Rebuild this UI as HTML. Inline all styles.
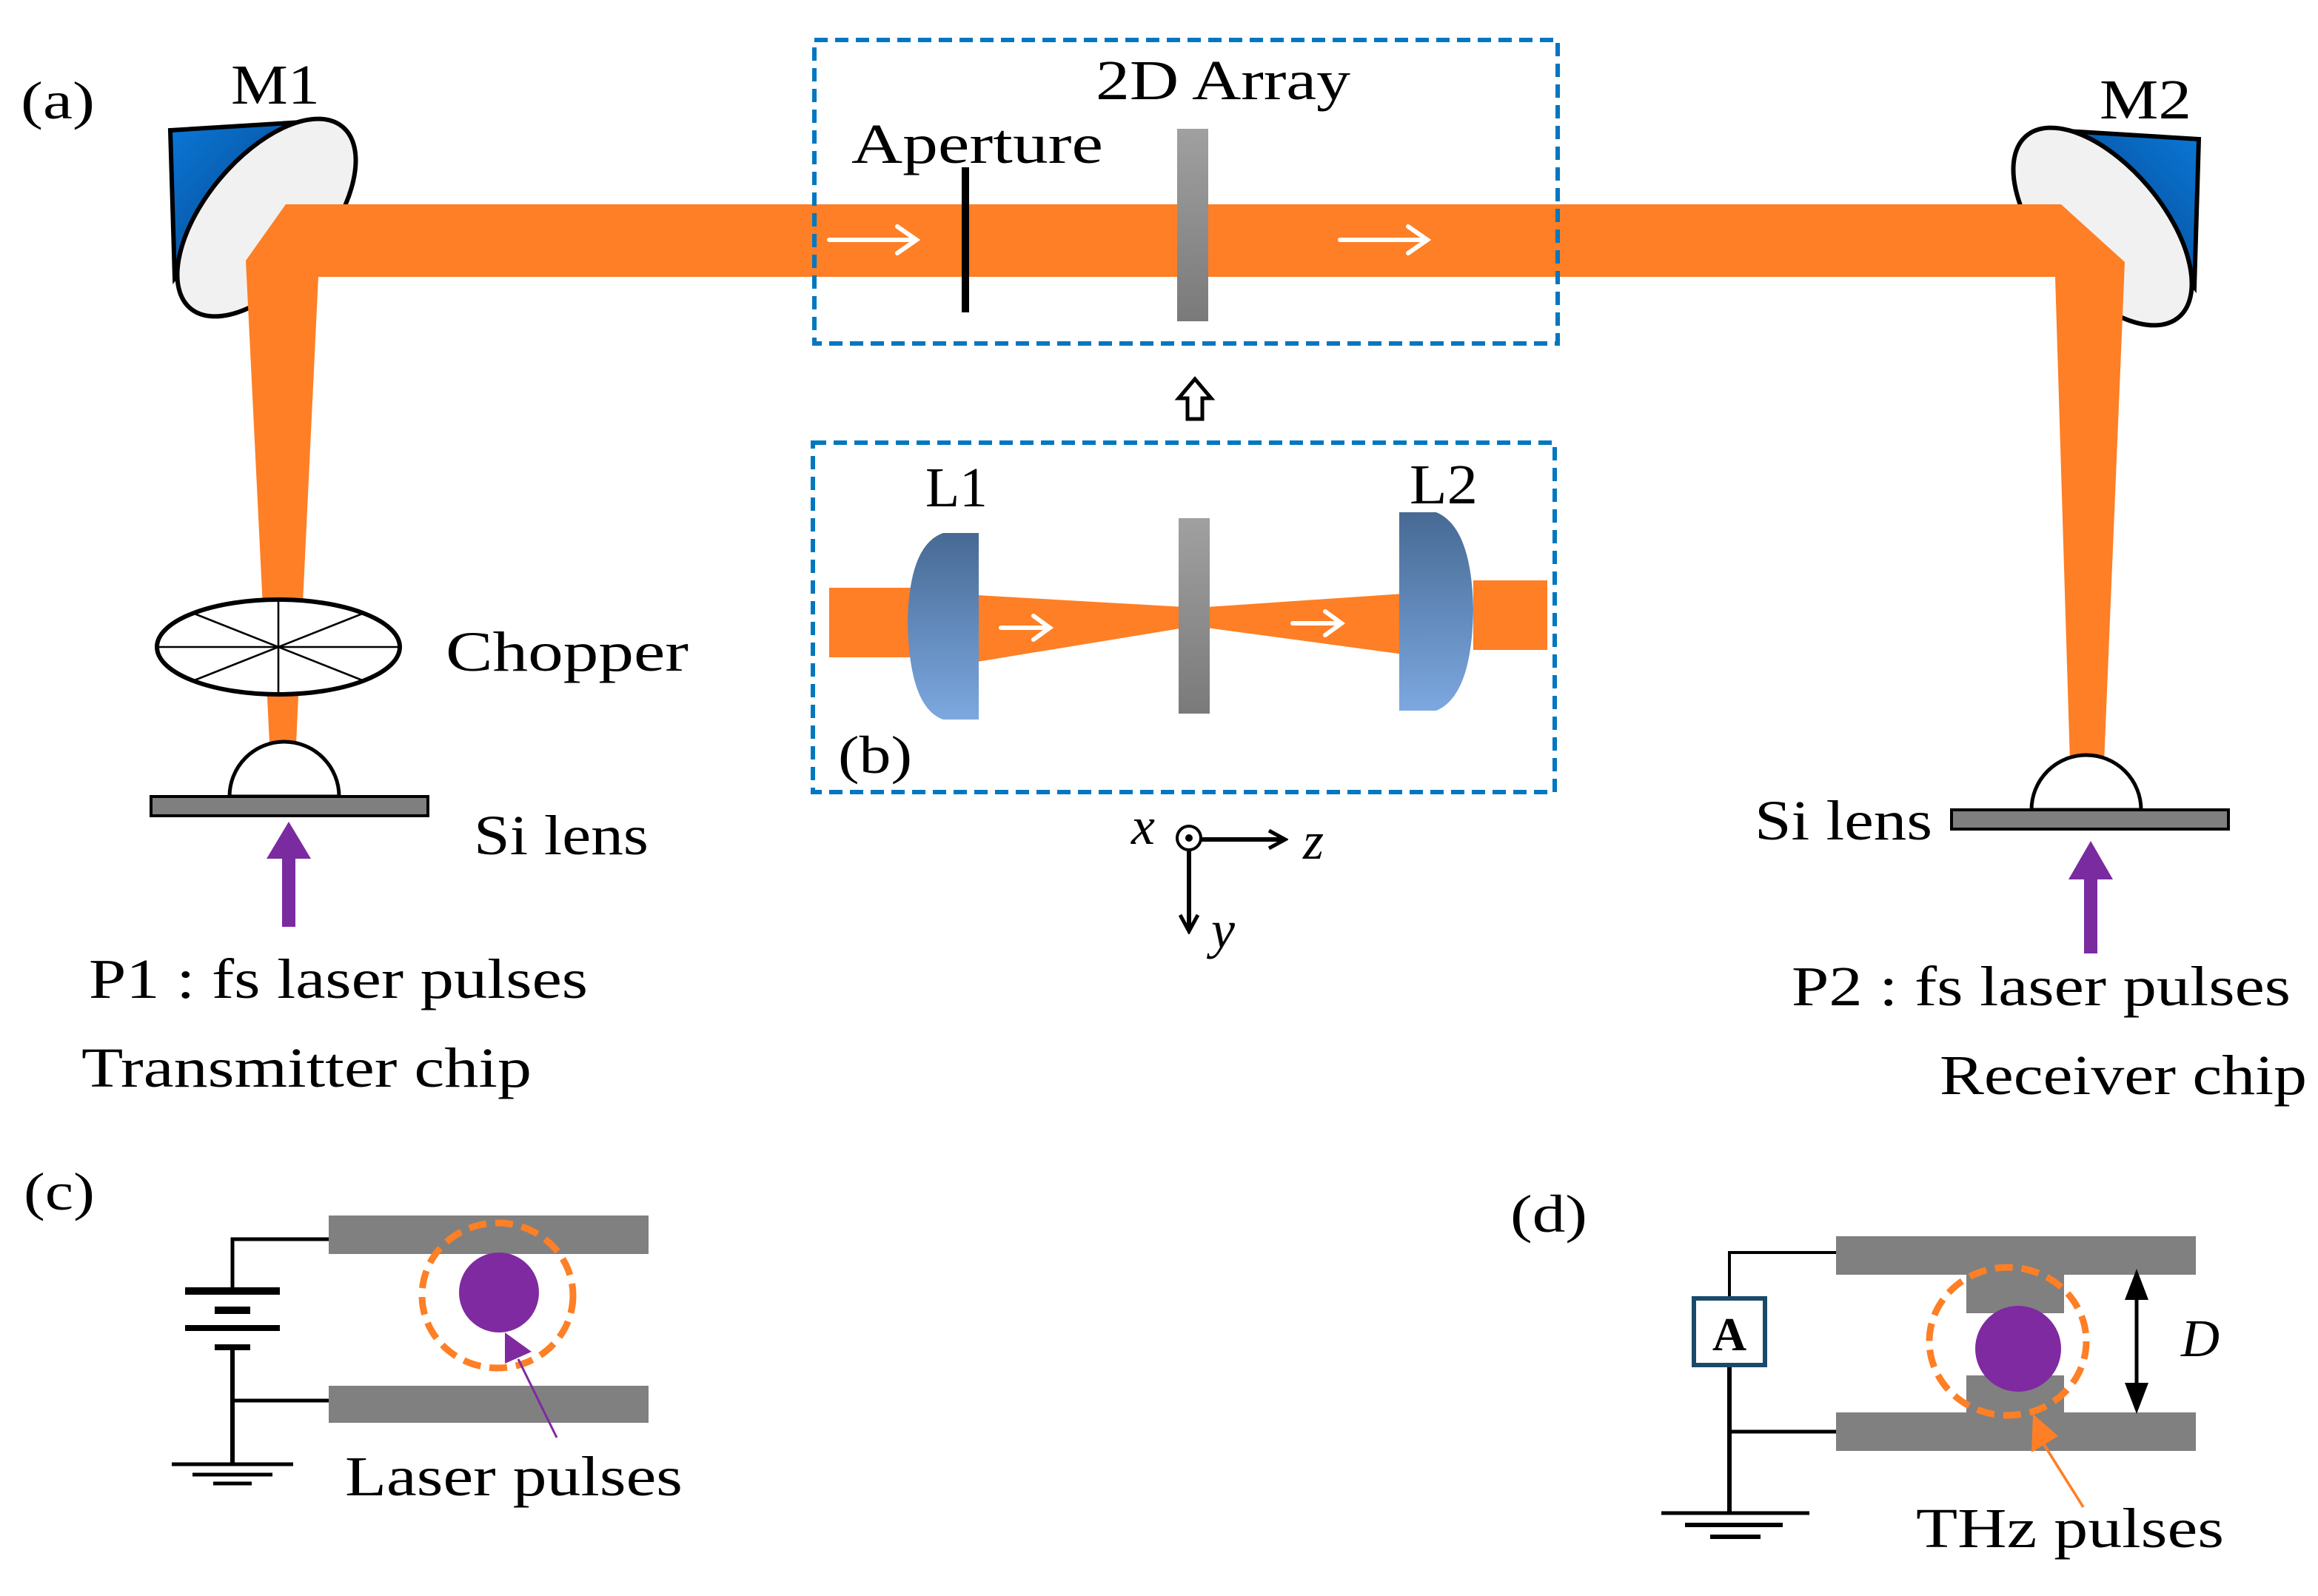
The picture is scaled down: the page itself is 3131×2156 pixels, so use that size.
<!DOCTYPE html>
<html><head><meta charset="utf-8"><style>
html,body{margin:0;padding:0;background:#fff;}
svg{display:block;}
text{font-family:"Liberation Serif","Times New Roman",serif;fill:#000;}
</style></head><body>
<svg width="3131" height="2156" viewBox="0 0 1565.5 1078" xmlns="http://www.w3.org/2000/svg" font-family="Liberation Serif, serif">
<defs>
<linearGradient id="blue" x1="0" y1="0" x2="1" y2="1"><stop offset="0" stop-color="#0a78d8"/><stop offset="1" stop-color="#063a7a"/></linearGradient>
<linearGradient id="gray" x1="0" y1="0" x2="0" y2="1"><stop offset="0" stop-color="#a0a0a0"/><stop offset="1" stop-color="#7a7a7a"/></linearGradient>
<linearGradient id="lens" x1="0" y1="0" x2="0" y2="1"><stop offset="0" stop-color="#476a94"/><stop offset="1" stop-color="#7ca8e0"/></linearGradient>
<marker id="ah" markerWidth="14" markerHeight="14" refX="12" refY="7" orient="auto" markerUnits="userSpaceOnUse"><path d="M1,1 L12,7 L1,13" fill="none" stroke="#000" stroke-width="2.5"/></marker>
</defs>

<g id="m1">
<path d="M115,88 L212,82 L150,150 L118,188 Z" fill="url(#blue)" stroke="#000" stroke-width="3"/>
<ellipse cx="180" cy="147" rx="80" ry="41" transform="rotate(-50 180 147)" fill="#f1f1f1" stroke="#000" stroke-width="3"/>
</g>
<g transform="translate(1600,6) scale(-1,1)">
<path d="M115,88 L212,82 L150,150 L118,188 Z" fill="url(#blue)" stroke="#000" stroke-width="3"/>
<ellipse cx="180" cy="147" rx="80" ry="41" transform="rotate(-50 180 147)" fill="#f1f1f1" stroke="#000" stroke-width="3"/>
</g>

<polygon points="166,176 193,138 1392,138 1435,177 1421,515 1398,515 1388,187 215,187 200,502 182,502" fill="#fe7f25"/>

<rect x="550" y="27" width="502" height="205" fill="none" stroke="#0077c0" stroke-width="3" stroke-dasharray="9,5"/>
<line x1="652" y1="113" x2="652" y2="211" stroke="#000" stroke-width="5"/>
<rect x="795" y="87" width="21" height="130" fill="url(#gray)"/>
<g stroke="#fff" stroke-width="3" fill="none" stroke-linecap="round">
<path d="M560,162 H618 M606,153 L619,162 L606,171"/>
<path d="M905,162 H963 M951,153 L964,162 L951,171"/>
</g>
<text x="740" y="67" font-size="38" textLength="172" lengthAdjust="spacingAndGlyphs">2D Array</text>
<text x="575" y="110" font-size="38" textLength="170" lengthAdjust="spacingAndGlyphs">Aperture</text>
<text x="156" y="70" font-size="38" textLength="60" lengthAdjust="spacingAndGlyphs">M1</text>
<text x="1418" y="80" font-size="38" textLength="62" lengthAdjust="spacingAndGlyphs">M2</text>
<text x="14" y="80" font-size="36" textLength="50" lengthAdjust="spacingAndGlyphs">(a)</text>

<path d="M807,256 L818,269 L812,269 L812,283 L802,283 L802,269 L796,269 Z" fill="#fff" stroke="#000" stroke-width="2.5"/>

<rect x="549" y="299" width="501" height="236" fill="none" stroke="#0077c0" stroke-width="3" stroke-dasharray="9,5"/>
<rect x="560" y="397" width="56" height="47" fill="#fe7f25"/>
<polygon points="660,402 800,410 800,424 660,447" fill="#fe7f25"/>
<polygon points="815,410 948,401 948,442 815,424" fill="#fe7f25"/>
<rect x="995" y="392" width="50" height="47" fill="#fe7f25"/>
<path d="M661,360 L637,360 Q614,368 613,420 Q614,478 637,486 L661,486 Z" fill="url(#lens)"/>
<path d="M945,346 L970,346 Q994,356 995,412 Q994,470 970,480 L945,480 Z" fill="url(#lens)"/>
<rect x="796" y="350" width="21" height="132" fill="url(#gray)"/>
<g stroke="#fff" stroke-width="3" fill="none" stroke-linecap="round">
<path d="M676,424 H708 M698,416 L709,424 L698,432"/>
<path d="M873,421 H905 M895,413 L906,421 L895,429"/>
</g>
<text x="625" y="342" font-size="38" textLength="42" lengthAdjust="spacingAndGlyphs">L1</text>
<text x="952" y="340" font-size="38" textLength="46" lengthAdjust="spacingAndGlyphs">L2</text>
<text x="566" y="522" font-size="36" textLength="50" lengthAdjust="spacingAndGlyphs">(b)</text>

<text x="764" y="570" font-size="36" font-style="italic">x</text>
<circle cx="803" cy="566" r="8" fill="none" stroke="#000" stroke-width="2"/>
<circle cx="803" cy="566" r="2.5" fill="#000"/>
<line x1="811" y1="567" x2="868" y2="567" stroke="#000" stroke-width="3" marker-end="url(#ah)"/>
<text x="880" y="580" font-size="36" font-style="italic">z</text>
<line x1="803" y1="575" x2="803" y2="629" stroke="#000" stroke-width="3" marker-end="url(#ah)"/>
<text x="818" y="640" font-size="36" font-style="italic">y</text>

<ellipse cx="188" cy="437" rx="82" ry="32" fill="#fff" stroke="#000" stroke-width="3"/>
<g stroke="#000" stroke-width="1.3">
<line x1="106" y1="437" x2="270" y2="437"/><line x1="188" y1="405" x2="188" y2="469"/>
<line x1="130" y1="414" x2="246" y2="460"/><line x1="130" y1="460" x2="246" y2="414"/>
</g>
<text x="301" y="453" font-size="38" textLength="164" lengthAdjust="spacingAndGlyphs">Chopper</text>

<path d="M155,538 A37,37 0 0 1 229,538 Z" fill="#fff" stroke="#000" stroke-width="2.5"/>
<rect x="102" y="538" width="187" height="13" fill="#7f7f7f" stroke="#000" stroke-width="2"/>
<line x1="195" y1="626" x2="195" y2="580" stroke="#7a2ba0" stroke-width="9"/>
<polygon points="180,580 210,580 195,555" fill="#7a2ba0"/>
<text x="320" y="577" font-size="38" textLength="118" lengthAdjust="spacingAndGlyphs">Si lens</text>
<text x="60" y="674" font-size="38" textLength="337" lengthAdjust="spacingAndGlyphs">P1 : fs laser pulses</text>
<text x="55" y="734" font-size="38" textLength="304" lengthAdjust="spacingAndGlyphs">Transmitter chip</text>

<path d="M1372,547 A37,37 0 0 1 1446,547 Z" fill="#fff" stroke="#000" stroke-width="2.5"/>
<rect x="1318" y="547" width="187" height="13" fill="#7f7f7f" stroke="#000" stroke-width="2"/>
<line x1="1412" y1="644" x2="1412" y2="594" stroke="#7a2ba0" stroke-width="9"/>
<polygon points="1397,594 1427,594 1412,568" fill="#7a2ba0"/>
<text x="1185" y="567" font-size="38" textLength="120" lengthAdjust="spacingAndGlyphs">Si lens</text>
<text x="1210" y="679" font-size="38" textLength="337" lengthAdjust="spacingAndGlyphs">P2 : fs laser pulses</text>
<text x="1310" y="739" font-size="38" textLength="248" lengthAdjust="spacingAndGlyphs">Receiver chip</text>

<text x="16" y="817" font-size="36" textLength="48" lengthAdjust="spacingAndGlyphs">(c)</text>
<rect x="222" y="821" width="216" height="26" fill="#808080"/>
<rect x="222" y="936" width="216" height="25" fill="#808080"/>
<g stroke="#000" fill="none">
<polyline points="222,837 157,837 157,872" stroke-width="2.5"/>
<line x1="125" y1="872" x2="189" y2="872" stroke-width="5"/>
<line x1="145" y1="885" x2="169" y2="885" stroke-width="5"/>
<line x1="125" y1="897" x2="189" y2="897" stroke-width="4"/>
<line x1="145" y1="910" x2="169" y2="910" stroke-width="4"/>
<line x1="157" y1="910" x2="157" y2="989" stroke-width="3"/>
<line x1="157" y1="946" x2="222" y2="946" stroke-width="2.5"/>
<line x1="116" y1="989" x2="198" y2="989" stroke-width="2.5"/>
<line x1="130" y1="996" x2="184" y2="996" stroke-width="2.5"/>
<line x1="144" y1="1002" x2="170" y2="1002" stroke-width="2.5"/>
</g>
<ellipse cx="336" cy="875" rx="51" ry="49" fill="none" stroke="#fe7f25" stroke-width="4.5" stroke-dasharray="12,6"/>
<circle cx="337" cy="873" r="27" fill="#7f2aa0"/>
<line x1="350" y1="918" x2="376" y2="971" stroke="#7f2aa0" stroke-width="1.5"/>
<polygon points="341,900 341,921 359,913" fill="#7f2aa0"/>
<text x="233" y="1010" font-size="38" textLength="228" lengthAdjust="spacingAndGlyphs">Laser pulses</text>

<text x="1020" y="832" font-size="36" textLength="52" lengthAdjust="spacingAndGlyphs">(d)</text>
<rect x="1240" y="835" width="243" height="26" fill="#808080"/>
<rect x="1240" y="954" width="243" height="26" fill="#808080"/>
<rect x="1328" y="860" width="66" height="27" fill="#808080"/>
<rect x="1328" y="929" width="66" height="26" fill="#808080"/>
<ellipse cx="1356" cy="906" rx="53" ry="50" fill="none" stroke="#fe7f25" stroke-width="4.5" stroke-dasharray="12,6"/>
<ellipse cx="1363" cy="911" rx="29" ry="29" fill="#7f2aa0"/>
<line x1="1443" y1="862" x2="1443" y2="950" stroke="#000" stroke-width="2.5"/>
<polygon points="1443,857 1435,878 1451,878" fill="#000"/>
<polygon points="1443,955 1435,934 1451,934" fill="#000"/>
<text x="1473" y="916" font-size="36" font-style="italic">D</text>
<g stroke="#000" fill="none">
<polyline points="1240,846 1168,846 1168,876" stroke-width="2"/>
<line x1="1168" y1="922" x2="1168" y2="1022" stroke-width="3"/>
<line x1="1168" y1="967" x2="1240" y2="967" stroke-width="2.5"/>
<line x1="1122" y1="1022" x2="1222" y2="1022" stroke-width="2.5"/>
<line x1="1138" y1="1030" x2="1204" y2="1030" stroke-width="3"/>
<line x1="1155" y1="1038" x2="1189" y2="1038" stroke-width="3"/>
</g>
<rect x="1144" y="877" width="48" height="45" fill="#fff" stroke="#1a4a6a" stroke-width="3"/>
<text x="1168" y="912" font-size="32" font-weight="bold" text-anchor="middle">A</text>
<line x1="1380" y1="975" x2="1407" y2="1018" stroke="#fe7f25" stroke-width="1.8"/>
<polygon points="1373,955 1372,981 1390,970" fill="#fe7f25"/>
<text x="1294" y="1045" font-size="38" textLength="208" lengthAdjust="spacingAndGlyphs">THz pulses</text>
</svg>
</body></html>
